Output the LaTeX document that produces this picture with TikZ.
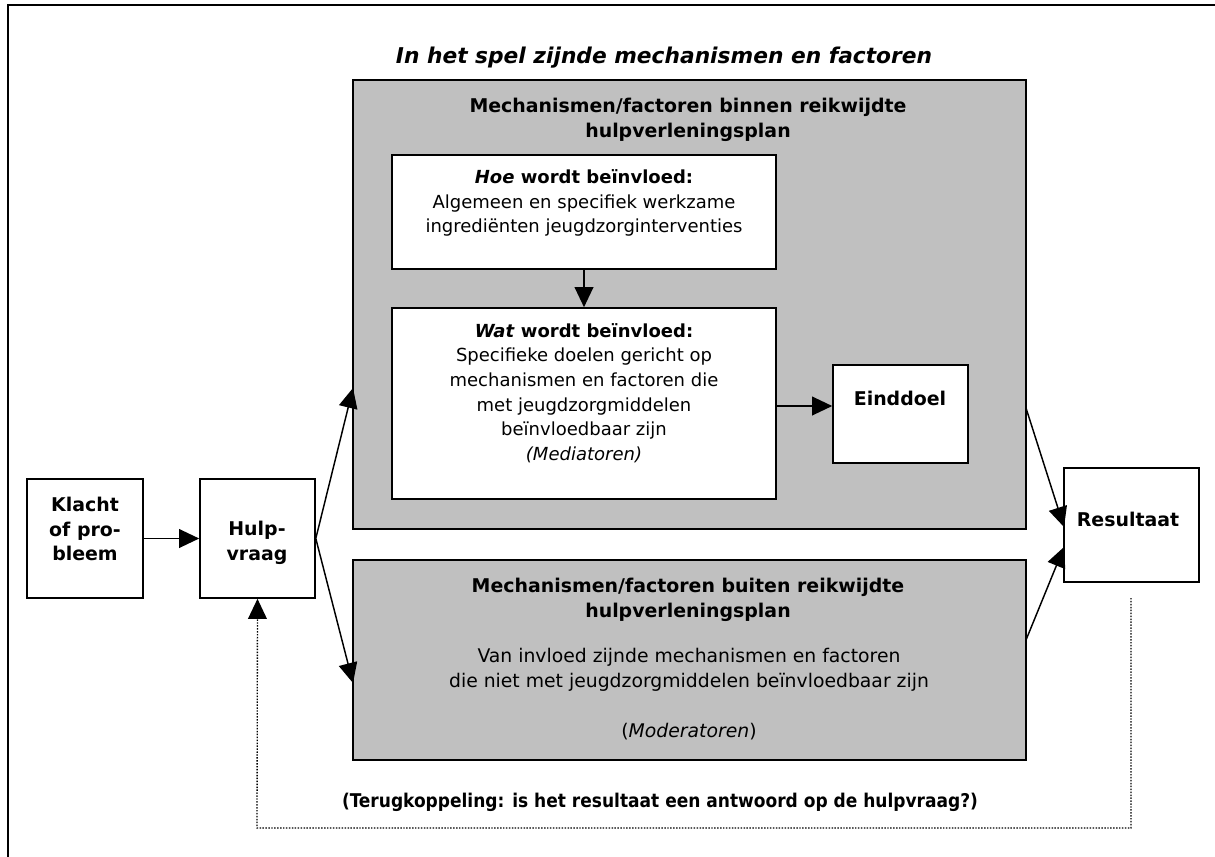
\documentclass[tikz,border=0pt]{standalone}
\usepackage{fontspec}
\setmainfont{DejaVu Sans}
\newfontfamily\narrowfont{DejaVu Sans Condensed}
\usepackage{tikz}
\usetikzlibrary{arrows.meta}
\usepackage{xcolor}
\definecolor{boxgrey}{HTML}{C0C0C0}

\tikzset{
    box/.style={draw, line width=1.2pt, fill=white, inner sep=0pt},
    greybox/.style={draw, line width=1.2pt, fill=boxgrey, inner sep=0pt},
    txt/.style={inner sep=0pt, align=center, font=\fontsize{13.5}{18.4}\selectfont},
    bigtxt/.style={txt, font=\fontsize{14.1}{18.4}\selectfont},
    label/.style={txt, font=\bfseries\fontsize{14.2}{19}\selectfont},
    flow/.style={line width=1.1pt, -{Triangle[length=15pt,width=14pt]}},
    back/.style={line width=1pt, dash pattern=on 1.1pt off 1.1pt, -{Triangle[length=15pt,width=14pt]}}
}

\begin{document}
\begin{tikzpicture}[x=0.75pt, y=-0.75pt]
    \useasboundingbox (0,0) rectangle (1215,857);
    % outer frame (cut off at right and bottom)
    \draw[line width=1.5pt] (8,857) -- (8,5) -- (1215,5);

    \node[txt, font=\bfseries\itshape\fontsize{16.3}{18}\selectfont] (title) at (664,58)
        {In het spel zijnde mechanismen en factoren};

    % boxes
    \node[greybox, minimum width=504.75pt, minimum height=336.75pt] (binnen) at (689.5,304.5) {};
    \node[greybox, minimum width=504.75pt, minimum height=150pt] (buiten) at (689.5,660) {};
    \node[box, minimum width=288pt, minimum height=85.5pt] (hoe) at (584,212) {};
    \node[box, minimum width=288pt, minimum height=143.25pt] (wat) at (584,403.5) {};
    \node[box, minimum width=101.25pt, minimum height=73.5pt] (eind) at (900.5,414) {};
    \node[box, minimum width=87pt, minimum height=89.25pt] (klacht) at (85,538.5) {};
    \node[box, minimum width=86.25pt, minimum height=89.25pt] (hulp) at (257.5,538.5) {};
    \node[box, minimum width=101.25pt, minimum height=85.5pt] (res) at (1131.5,525) {};

    % texts
    \node[label] (binnenT) at (688,120)
        {Mechanismen/factoren binnen reikwijdte\\ hulpverleningsplan};
    \node[label] (buitenT) at (688,600)
        {Mechanismen/factoren buiten reikwijdte\\ hulpverleningsplan};
    \node[txt] (hoeT) at (584,203)
        {\textbf{\textit{Hoe} wordt beïnvloed:}\\ Algemeen en specifiek werkzame\\ ingrediënten jeugdzorginterventies};
    \node[txt] (watT) at (584,393)
        {\textbf{\textit{Wat} wordt beïnvloed:}\\ Specifieke doelen gericht op\\ mechanismen en factoren die\\
         met jeugdzorgmiddelen\\ beïnvloedbaar zijn\\ \textit{(Mediatoren)}};
    \node[label] (eindT) at (900,398) {Einddoel};
    \node[label, font=\bfseries\fontsize{14.2}{18.4}\selectfont] (klachtT) at (85,529) {Klacht\\ of pro-\\ bleem};
    \node[label] (hulpT) at (257,543) {Hulp-\\ vraag};
    \node[label] (resT) at (1128,519) {Resultaat};
    \node[bigtxt] (buitenB) at (689,670)
        {Van invloed zijnde mechanismen en factoren\\ die niet met jeugdzorgmiddelen beïnvloedbaar zijn};
    \node[bigtxt] (moder) at (689,732) {(\textit{Moderatoren})};
    \node[txt, font=\narrowfont\bfseries\fontsize{14.2}{18}\selectfont] (terug) at (660,802)
        {(Terugkoppeling: is het resultaat een antwoord op de hulpvraag?)};

    % connector ends
    \coordinate (binIn) at (353,388);
    \coordinate (buiIn) at (353,683);
    \coordinate (binOut) at (1026,408);
    \coordinate (buiOut) at (1026,640);
    \coordinate (resInA) at (1064,527);
    \coordinate (resInB) at (1064,547);
    \coordinate (fbA) at (1131,598);
    \coordinate (fbB) at (1131,828);
    \coordinate (fbC) at (257,828);

    % arrows
    \draw[flow] (klacht.east) -- (hulp.west);
    \draw[flow] (hulp.east) -- (binIn);
    \draw[flow] (hulp.east) -- (buiIn);
    \draw[flow] (hoe.south) -- (wat.north);
    \draw[flow] (wat.east |- 0,406) -- (eind.west |- 0,406);
    \draw[flow] (binOut) -- (resInA);
    \draw[flow] (buiOut) -- (resInB);
    \draw[back] (fbA) -- (fbB) -- (fbC) -- (hulp.south);
\end{tikzpicture}
\end{document}
